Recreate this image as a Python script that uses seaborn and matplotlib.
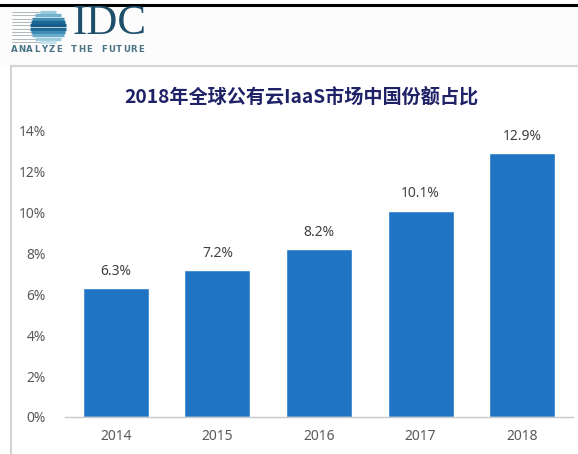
import numpy as np
import matplotlib
matplotlib.use("Agg")
import matplotlib.pyplot as plt
import matplotlib.patches as mpatches
from matplotlib.lines import Line2D
import seaborn as sns
import pandas as pd

years = ["2014", "2015", "2016", "2017", "2018"]
share = [6.3, 7.2, 8.2, 10.1, 12.9]
value_labels = ["6.3%", "7.2%", "8.2%", "10.1%", "12.9%"]
y_ticks = [0, 2, 4, 6, 8, 10, 12, 14]
y_tick_labels = ["0%", "2%", "4%", "6%", "8%", "10%", "12%", "14%"]
title = "2018年全球公有云IaaS市场中国份额占比"
tagline = "ANALYZE THE FUTURE"

sns.set_theme(style="white")
plt.rcParams["font.family"] = ["Noto Sans", "Noto Sans CJK SC", "DejaVu Sans"]

W, H = 578, 454
fig = plt.figure(figsize=(W / 100, H / 100), dpi=100)
fig.patch.set_facecolor("white")

def fx(px):
    return px / W

def fy(py):
    return 1 - py / H

# header rule and panel frame
fig.add_artist(mpatches.Rectangle((0, fy(64)), 1, fy(7) - fy(64),
                                  color="#fbfcfb", zorder=-1))
fig.add_artist(Line2D([0, 1], [fy(5), fy(5)], color="black", lw=2.2))
fig.add_artist(Line2D([fx(11), 1], [fy(66), fy(66)], color="#d4d6d6", lw=1.6))
fig.add_artist(Line2D([fx(11), fx(11)], [fy(66), 0], color="#c9cbcb", lw=1.2))

# logo: striped globe, pixel coordinates
lax = fig.add_axes([fx(8), fy(46), fx(72) - fx(8), fy(8) - fy(46)])
lax.set_xlim(8, 72)
lax.set_ylim(46, 8)
lax.axis("off")
cx, cy, r = 48, 27, 17
stripe_cols = ["#9ccbdd", "#74b3cd", "#3f8db3", "#1f6794", "#175d8a",
               "#1f6a95", "#3e8bb3", "#6aaccb", "#9ccbdd", "#c2e0ea"]
ys = np.linspace(cy - r + 2, cy + r - 2, len(stripe_cols))
for yy, c in zip(ys, stripe_cols):
    half = np.sqrt(max(r ** 2 - (yy - cy) ** 2, 0)) * 1.05
    lax.plot([cx - half, cx + half], [yy, yy], color=c, lw=2.4,
             solid_capstyle="butt")
    lax.plot([12, cx - half], [yy, yy], color="#a3adb2", lw=0.6)
fig.text(fx(73), fy(24), "IDC", family="Liberation Serif", fontsize=31,
         color="#1d4f6b", va="center", ha="left")
# spaced-out tagline
x0, step = 14, 7.5
for i, ch in enumerate(tagline):
    if ch != " ":
        fig.text(fx(x0 + i * step), fy(50), ch, family="DejaVu Sans",
                 fontsize=6.2, fontweight="bold", color="#4a7386",
                 va="center", ha="center")

# title
fig.text(fx(301), fy(97), title, family=["Noto Sans CJK SC", "DejaVu Sans"],
         fontsize=13.8, fontweight="bold", color="#1f2266",
         ha="center", va="center")

# bar chart
ax = fig.add_axes([fx(65), fy(417), fx(573) - fx(65), fy(131) - fy(417)])
df = pd.DataFrame({"year": years, "share": share})
sns.barplot(data=df, x="year", y="share", color="#1f74c4", saturation=1,
            width=0.65, ax=ax)
ax.set_xlim(-0.5, 4.5)
ax.set_ylim(0, 14)
ax.set_yticks(y_ticks)
ax.set_yticklabels(y_tick_labels)
ax.set_xlabel("")
ax.set_ylabel("")
for s in ["top", "right", "left"]:
    ax.spines[s].set_visible(False)
ax.spines["bottom"].set_color("#c8c8c8")
ax.spines["bottom"].set_linewidth(1.0)
ax.tick_params(axis="both", length=0, labelsize=10, colors="#595959")
ax.tick_params(axis="y", pad=14)
ax.tick_params(axis="x", pad=9)
ax.set_facecolor("none")
for i, (v, lab) in enumerate(zip(share, value_labels)):
    ax.text(i, v + 0.45, lab, ha="center", va="bottom", fontsize=10,
            color="#404040")

fig.savefig("out.png", dpi=100)
